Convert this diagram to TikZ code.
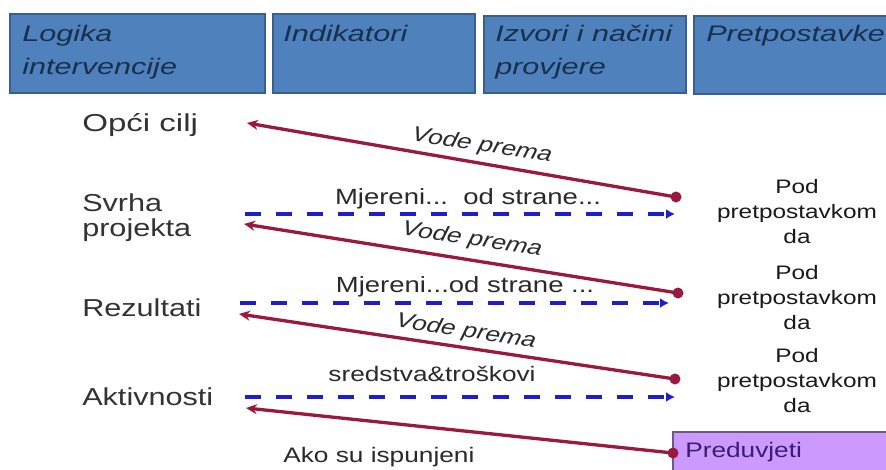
\documentclass[tikz,border=0pt]{standalone}
\usepackage{fontspec}
\setmainfont{Liberation Sans}
\usetikzlibrary{arrows.meta}
\definecolor{hdrfill}{HTML}{4F81BD}
\definecolor{hdrline}{HTML}{3A5F8B}
\definecolor{hdrtext}{HTML}{17304F}
\definecolor{redln}{RGB}{155,25,60}
\definecolor{blueln}{RGB}{30,30,205}
\definecolor{lbltext}{HTML}{333333}
\definecolor{midtext}{HTML}{2A2A2A}
\definecolor{prefill}{HTML}{CC99FF}
\definecolor{preline}{HTML}{6A5A8A}
\definecolor{pretext}{HTML}{3B1E6B}
\begin{document}
\begin{tikzpicture}[x=1pt,y=-1pt,
  hdrbox/.style={draw=hdrline, fill=hdrfill, line width=1.2pt},
  hdrtxt/.style={inner sep=0pt, text=hdrtext, font=\fontsize{22.5}{33}\selectfont\itshape, xscale=1.36, align=left},
  rowlbl/.style={inner sep=0pt, text=lbltext, font=\fontsize{24.5}{25}\selectfont, xscale=1.25, align=left},
  vodetxt/.style={inner sep=0pt, text=midtext, font=\fontsize{21}{25}\selectfont\itshape, xscale=1.25, rotate=-10.5},
  midtxt/.style={inner sep=0pt, text=midtext, font=\fontsize{22}{25}\selectfont, xscale=1.25},
  smalltxt/.style={inner sep=0pt, text=midtext, font=\fontsize{21}{25}\selectfont, xscale=1.25},
  podtxt/.style={inner sep=0pt, text=black!90, font=\fontsize{19.5}{25}\selectfont, xscale=1.25, align=center},
  reddot/.style={circle, fill=redln, minimum size=11pt, inner sep=0pt},
  redarrow/.style={draw=redln, line width=3.3pt, -{Stealth[length=11pt,width=10pt]}},
  bluearrow/.style={draw=blueln, line width=3.8pt, dash pattern=on 16pt off 15pt, -{Latex[length=9pt,width=10pt]}},
  prebox/.style={draw=preline, fill=prefill, line width=1.2pt}
]
\useasboundingbox (0,0) rectangle (886,469);
\clip (0,0) rectangle (886,469);
\fill[white] (0,0) rectangle (886,469);

% header boxes
\draw[hdrbox] (10,14) rectangle (265,93);
\draw[hdrbox] (273,14) rectangle (475,93);
\draw[hdrbox] (484,16) rectangle (686,93);
\draw[hdrbox] (694,16) rectangle (900,94);
\node[hdrtxt, anchor=north west] (h1) at (22,25) {Logika\\intervencije};
\node[hdrtxt, anchor=base west] (h2) at (283,41) {Indikatori};
\node[hdrtxt, anchor=north west] (h3) at (495,24.5) {Izvori i načini\\provjere};
\node[hdrtxt, anchor=base west] (h4) at (706,41) {Pretpostavke};

% row labels
\node[rowlbl, anchor=base west, xscale=1.08] (r1) at (82,131) {Opći cilj};
\node[rowlbl, anchor=north west] (r2) at (82,194) {Svrha\\projekta};
\node[rowlbl, anchor=base west] (r3) at (82,316) {Rezultati};
\node[rowlbl, anchor=base west] (r4) at (82,405) {Aktivnosti};

% assumptions
\node[podtxt, anchor=south] (p1) at (797,244) {Pod\\pretpostavkom\\da};
\node[podtxt, anchor=south] (p2) at (797,330) {Pod\\pretpostavkom\\da};
\node[podtxt, anchor=south] (p3) at (797,413) {Pod\\pretpostavkom\\da};

% preconditions box
\draw[prebox] (673,432) rectangle (900,480);
\node[inner sep=0pt, text=pretext, font=\fontsize{21}{25}\selectfont, xscale=1.25, anchor=base west] (pre) at (685,457) {Preduvjeti};

% red arrows
\node[reddot] (d1) at (676,197) {};
\node[reddot] (d2) at (678,293) {};
\node[reddot] (d3) at (675,379) {};
\node[reddot] (d4) at (673,453) {};
\coordinate (t1) at (247,123);
\coordinate (t2) at (244,224);
\coordinate (t3) at (239,314);
\coordinate (t4) at (246,408);
\draw[redarrow] (d1.center) -- (t1);
\draw[redarrow] (d2.center) -- (t2);
\draw[redarrow] (d3.center) -- (t3);
\draw[redarrow] (d4.center) -- (t4);

% blue dashed arrows
\coordinate (b1s) at (245,214);
\coordinate (b1e) at (675,214);
\coordinate (b2s) at (240,303);
\coordinate (b2e) at (669,303);
\coordinate (b3s) at (245,397);
\coordinate (b3e) at (675,397);
\draw[bluearrow] (b1s) -- (b1e);
\draw[bluearrow] (b2s) -- (b2e);
\draw[bluearrow] (b3s) -- (b3e);

% labels on arrows
\node[vodetxt] (v1) at (482,146) {Vode prema};
\node[vodetxt] (v2) at (472,240) {Vode prema};
\node[vodetxt] (v3) at (466,332) {Vode prema};
\node[midtxt, anchor=base] (m1) at (468,204) {Mjereni...\ \ od strane...};
\node[midtxt, anchor=base] (m2) at (465,292) {Mjereni...od strane ...};
\node[smalltxt, anchor=base] (s1) at (432,381) {sredstva\&troškovi};
\node[smalltxt, anchor=base west] (a1) at (283,462) {Ako su ispunjeni};
\end{tikzpicture}
\end{document}
